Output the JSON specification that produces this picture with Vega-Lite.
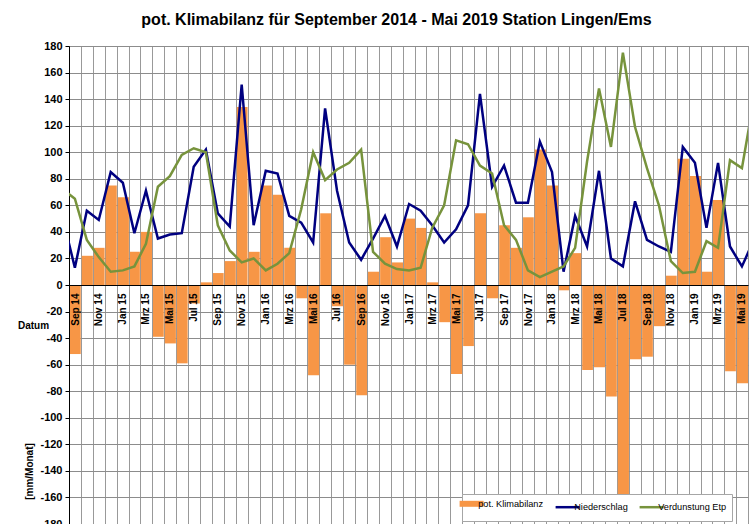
{
  "$schema": "https://vega.github.io/schema/vega-lite/v6.json",
  "width": 679,
  "height": 478,
  "autosize": {"type": "none"},
  "padding": {"left": 69, "top": 46, "right": 2, "bottom": 0},
  "background": "white",
  "title": {
    "text": "pot. Klimabilanz für September 2014 - Mai 2019 Station Lingen/Ems",
    "font": "Liberation Sans",
    "fontSize": 16,
    "fontWeight": "bold",
    "color": "black",
    "anchor": "middle",
    "frame": "group",
    "dx": -12,
    "offset": 12
  },
  "config": {
    "font": "Liberation Sans",
    "view": {"stroke": "#808080", "strokeWidth": 1},
    "axisY": {"labelOverlap": false, "labelFlush": false, "labelBound": false},
    "legend": {
      "orient": "none",
      "legendX": 393,
      "legendY": 448,
      "direction": "horizontal",
      "title": null,
      "fillColor": "white",
      "strokeColor": "#a6a6a6",
      "padding": 5,
      "symbolType": "stroke",
      "symbolSize": 576,
      "symbolStrokeWidth": 2.5,
      "labelFontSize": 9.2,
      "labelColor": "black",
      "labelOffset": 2,
      "columnPadding": 6,
      "zindex": 1
    }
  },
  "resolve": {"axis": {"x": "independent"}},
  "data": {
    "values": [
      {"Monat": "2014-08-01", "Niederschlag": 50, "Verdunstung Etp": 72},
      {"Monat": "2014-09-01", "Klimabilanz": -52, "Niederschlag": 13, "Verdunstung Etp": 65},
      {"Monat": "2014-10-01", "Klimabilanz": 22, "Niederschlag": 56, "Verdunstung Etp": 34},
      {"Monat": "2014-11-01", "Klimabilanz": 28, "Niederschlag": 49, "Verdunstung Etp": 21},
      {"Monat": "2014-12-01", "Klimabilanz": 75, "Niederschlag": 85, "Verdunstung Etp": 10},
      {"Monat": "2015-01-01", "Klimabilanz": 66, "Niederschlag": 77, "Verdunstung Etp": 11},
      {"Monat": "2015-02-01", "Klimabilanz": 25, "Niederschlag": 39, "Verdunstung Etp": 14},
      {"Monat": "2015-03-01", "Klimabilanz": 40, "Niederschlag": 71, "Verdunstung Etp": 31},
      {"Monat": "2015-04-01", "Klimabilanz": -39, "Niederschlag": 35, "Verdunstung Etp": 74},
      {"Monat": "2015-05-01", "Klimabilanz": -44, "Niederschlag": 38, "Verdunstung Etp": 82},
      {"Monat": "2015-06-01", "Klimabilanz": -59, "Niederschlag": 39, "Verdunstung Etp": 98},
      {"Monat": "2015-07-01", "Klimabilanz": -14, "Niederschlag": 89, "Verdunstung Etp": 103},
      {"Monat": "2015-08-01", "Klimabilanz": 2, "Niederschlag": 102, "Verdunstung Etp": 100},
      {"Monat": "2015-09-01", "Klimabilanz": 9, "Niederschlag": 54, "Verdunstung Etp": 45},
      {"Monat": "2015-10-01", "Klimabilanz": 18, "Niederschlag": 44, "Verdunstung Etp": 26},
      {"Monat": "2015-11-01", "Klimabilanz": 134, "Niederschlag": 151, "Verdunstung Etp": 17},
      {"Monat": "2015-12-01", "Klimabilanz": 25, "Niederschlag": 45, "Verdunstung Etp": 20},
      {"Monat": "2016-01-01", "Klimabilanz": 75, "Niederschlag": 86, "Verdunstung Etp": 11},
      {"Monat": "2016-02-01", "Klimabilanz": 68, "Niederschlag": 84, "Verdunstung Etp": 16},
      {"Monat": "2016-03-01", "Klimabilanz": 28, "Niederschlag": 52, "Verdunstung Etp": 24},
      {"Monat": "2016-04-01", "Klimabilanz": -10, "Niederschlag": 47, "Verdunstung Etp": 57},
      {"Monat": "2016-05-01", "Klimabilanz": -68, "Niederschlag": 32, "Verdunstung Etp": 100},
      {"Monat": "2016-06-01", "Klimabilanz": 54, "Niederschlag": 133, "Verdunstung Etp": 79},
      {"Monat": "2016-07-01", "Klimabilanz": -16, "Niederschlag": 71, "Verdunstung Etp": 87},
      {"Monat": "2016-08-01", "Klimabilanz": -60, "Niederschlag": 32, "Verdunstung Etp": 92},
      {"Monat": "2016-09-01", "Klimabilanz": -83, "Niederschlag": 19, "Verdunstung Etp": 102},
      {"Monat": "2016-10-01", "Klimabilanz": 10, "Niederschlag": 35, "Verdunstung Etp": 25},
      {"Monat": "2016-11-01", "Klimabilanz": 36, "Niederschlag": 52, "Verdunstung Etp": 16},
      {"Monat": "2016-12-01", "Klimabilanz": 17, "Niederschlag": 29, "Verdunstung Etp": 12},
      {"Monat": "2017-01-01", "Klimabilanz": 50, "Niederschlag": 61, "Verdunstung Etp": 11},
      {"Monat": "2017-02-01", "Klimabilanz": 43, "Niederschlag": 56, "Verdunstung Etp": 13},
      {"Monat": "2017-03-01", "Klimabilanz": 2, "Niederschlag": 45, "Verdunstung Etp": 43},
      {"Monat": "2017-04-01", "Klimabilanz": -28, "Niederschlag": 32, "Verdunstung Etp": 60},
      {"Monat": "2017-05-01", "Klimabilanz": -67, "Niederschlag": 42, "Verdunstung Etp": 109},
      {"Monat": "2017-06-01", "Klimabilanz": -46, "Niederschlag": 60, "Verdunstung Etp": 106},
      {"Monat": "2017-07-01", "Klimabilanz": 54, "Niederschlag": 144, "Verdunstung Etp": 90},
      {"Monat": "2017-08-01", "Klimabilanz": -10, "Niederschlag": 74, "Verdunstung Etp": 84},
      {"Monat": "2017-09-01", "Klimabilanz": 45, "Niederschlag": 90, "Verdunstung Etp": 45},
      {"Monat": "2017-10-01", "Klimabilanz": 28, "Niederschlag": 62, "Verdunstung Etp": 34},
      {"Monat": "2017-11-01", "Klimabilanz": 51, "Niederschlag": 62, "Verdunstung Etp": 11},
      {"Monat": "2017-12-01", "Klimabilanz": 102, "Niederschlag": 108, "Verdunstung Etp": 6},
      {"Monat": "2018-01-01", "Klimabilanz": 75, "Niederschlag": 85, "Verdunstung Etp": 10},
      {"Monat": "2018-02-01", "Klimabilanz": -4, "Niederschlag": 10, "Verdunstung Etp": 14},
      {"Monat": "2018-03-01", "Klimabilanz": 24, "Niederschlag": 52, "Verdunstung Etp": 28},
      {"Monat": "2018-04-01", "Klimabilanz": -64, "Niederschlag": 29, "Verdunstung Etp": 93},
      {"Monat": "2018-05-01", "Klimabilanz": -62, "Niederschlag": 86, "Verdunstung Etp": 148},
      {"Monat": "2018-06-01", "Klimabilanz": -84, "Niederschlag": 20, "Verdunstung Etp": 104},
      {"Monat": "2018-07-01", "Klimabilanz": -161, "Niederschlag": 14, "Verdunstung Etp": 175},
      {"Monat": "2018-08-01", "Klimabilanz": -56, "Niederschlag": 63, "Verdunstung Etp": 119},
      {"Monat": "2018-09-01", "Klimabilanz": -54, "Niederschlag": 34, "Verdunstung Etp": 88},
      {"Monat": "2018-10-01", "Klimabilanz": -31, "Niederschlag": 29, "Verdunstung Etp": 60},
      {"Monat": "2018-11-01", "Klimabilanz": 7, "Niederschlag": 25, "Verdunstung Etp": 18},
      {"Monat": "2018-12-01", "Klimabilanz": 95, "Niederschlag": 104, "Verdunstung Etp": 9},
      {"Monat": "2019-01-01", "Klimabilanz": 82, "Niederschlag": 92, "Verdunstung Etp": 10},
      {"Monat": "2019-02-01", "Klimabilanz": 10, "Niederschlag": 43, "Verdunstung Etp": 33},
      {"Monat": "2019-03-01", "Klimabilanz": 64, "Niederschlag": 92, "Verdunstung Etp": 28},
      {"Monat": "2019-04-01", "Klimabilanz": -65, "Niederschlag": 29, "Verdunstung Etp": 94},
      {"Monat": "2019-05-01", "Klimabilanz": -74, "Niederschlag": 14, "Verdunstung Etp": 88},
      {"Monat": "2019-06-01", "Niederschlag": 34, "Verdunstung Etp": 140}
    ]
  },
  "layer": [
    {
      "mark": {"type": "bar", "timeUnitBandSize": 0.87, "clip": true},
      "encoding": {
        "x": {
          "field": "Monat",
          "timeUnit": "utcyearmonth",
          "type": "temporal",
          "scale": {"domain": [{"year": 2014, "month": 9, "date": 1, "utc": true}, {"year": 2019, "month": 6, "date": 1, "utc": true}]},
          "axis": {
            "orient": "bottom",
            "tickCount": {"interval": "month", "step": 1},
            "grid": true,
            "gridColor": "#999999",
            "gridWidth": 1,
            "domain": false,
            "ticks": false,
            "labels": false,
            "title": null,
            "zindex": 0
          }
        },
        "y": {
          "field": "Klimabilanz",
          "type": "quantitative",
          "scale": {"domain": [-180, 180], "nice": false, "zero": false},
          "axis": {
            "values": [-180, -160, -140, -120, -100, -80, -60, -40, -20, 0, 20, 40, 60, 80, 100, 120, 140, 160, 180],
            "grid": true,
            "gridColor": "#8c8c8c",
            "domainColor": "black",
            "tickColor": "black",
            "tickSize": 4,
            "labelFontSize": 11,
            "labelFontWeight": "bold",
            "labelColor": "black",
            "labelPadding": 3,
            "labelOverlap": false,
            "labelExpr": "'' + datum.value",
            "title": "[mm/Monat]",
            "titleX": -40,
            "titleY": 425,
            "titleAngle": 270,
            "titleAlign": "center",
            "titleBaseline": "middle",
            "titleFontSize": 10,
            "titleFontWeight": "bold",
            "titleColor": "black"
          }
        },
        "color": {
          "datum": "pot. Klimabilanz",
          "type": "nominal",
          "scale": {"domain": ["pot. Klimabilanz", "Niederschlag", "Verdunstung Etp"], "range": ["#F79646", "#000080", "#77933C"]},
          "legend": {
            "title": null,
            "encode": {
              "symbols": {
                "update": {
                  "shape": {"value": "stroke"},
                  "fill": {"value": "transparent"},
                  "stroke": {"scale": "color", "field": "value"},
                  "strokeWidth": {"signal": "datum.value === 'pot. Klimabilanz' ? 6 : 2.5"},
                  "opacity": {"value": 1}
                }
              }
            }
          }
        }
      }
    },
    {
      "transform": [{"fold": ["Niederschlag", "Verdunstung Etp"], "as": ["Reihe", "Wert"]}],
      "mark": {"type": "line", "strokeWidth": 2.5, "clip": true},
      "encoding": {
        "x": {
          "field": "Monat",
          "timeUnit": "utcyearmonth",
          "type": "temporal",
          "bandPosition": 0.5,
          "axis": {
            "orient": "bottom",
            "offset": -239,
            "tickCount": {"interval": "month", "step": 1},
            "grid": false,
            "domainColor": "black",
            "domainWidth": 1,
            "ticks": false,
            "labelAngle": 270,
            "labelOffset": 6,
            "labelPadding": 8,
            "labelFontSize": 10,
            "labelFontWeight": "bold",
            "labelColor": "black",
            "labelOverlap": false,
            "labelFlush": false,
            "labelBound": false,
            "labelExpr": "utcmonth(datum.value) % 2 === 0 ? ['Jan','Feb','Mrz','Apr','Mai','Jun','Jul','Aug','Sep','Okt','Nov','Dez'][utcmonth(datum.value)] + ' ' + utcFormat(datum.value, '%y') : ''",
            "title": "Datum",
            "titleX": -36,
            "titleY": 40,
            "titleAngle": 0,
            "titleAlign": "center",
            "titleBaseline": "middle",
            "titleFontSize": 10,
            "titleFontWeight": "bold",
            "titleColor": "black",
            "zindex": 1
          }
        },
        "y": {
          "field": "Wert",
          "type": "quantitative",
          "axis": {
            "values": [-180, -160, -140, -120, -100, -80, -60, -40, -20, 0, 20, 40, 60, 80, 100, 120, 140, 160, 180],
            "grid": true,
            "gridColor": "#8c8c8c",
            "domainColor": "black",
            "tickColor": "black",
            "tickSize": 4,
            "labelFontSize": 11,
            "labelFontWeight": "bold",
            "labelColor": "black",
            "labelPadding": 3,
            "labelOverlap": false,
            "labelExpr": "'' + datum.value",
            "title": "[mm/Monat]",
            "titleX": -40,
            "titleY": 425,
            "titleAngle": 270,
            "titleAlign": "center",
            "titleBaseline": "middle",
            "titleFontSize": 10,
            "titleFontWeight": "bold",
            "titleColor": "black"
          }
        },
        "color": {
          "field": "Reihe",
          "type": "nominal",
          "legend": {
            "title": null,
            "encode": {
              "symbols": {
                "update": {
                  "shape": {"value": "stroke"},
                  "fill": {"value": "transparent"},
                  "stroke": {"scale": "color", "field": "value"},
                  "strokeWidth": {"signal": "datum.value === 'pot. Klimabilanz' ? 6 : 2.5"},
                  "opacity": {"value": 1}
                }
              }
            }
          }
        }
      }
    }
  ]
}
